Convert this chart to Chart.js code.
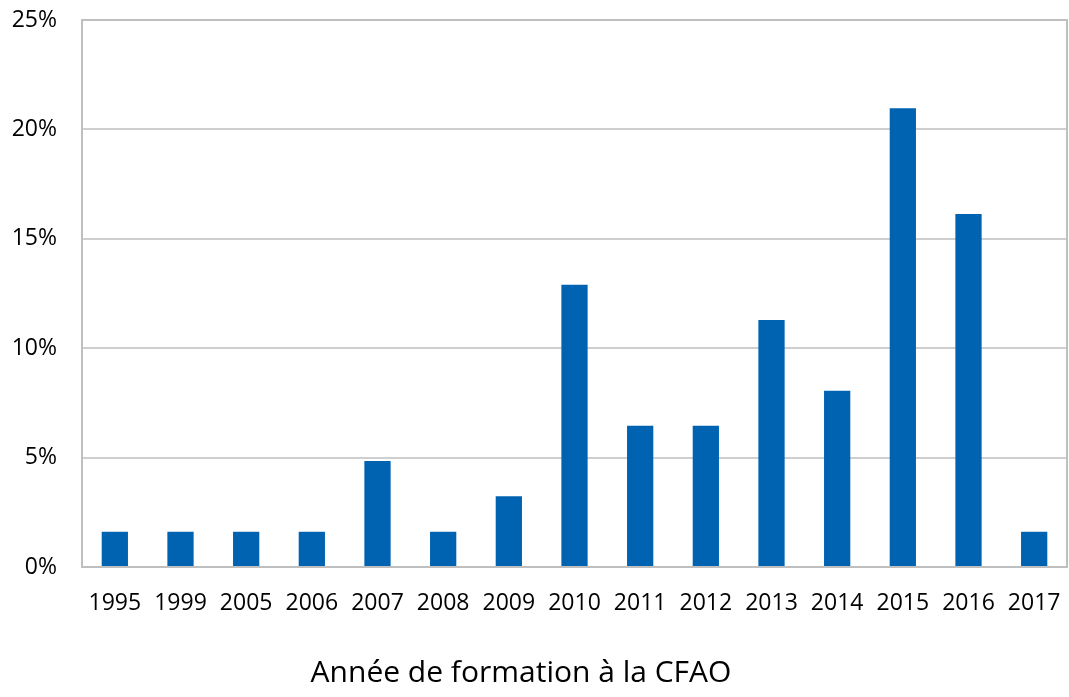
<!DOCTYPE html>
<html>
<head>
<meta charset="utf-8">
<script src="https://cdn.jsdelivr.net/npm/chart.js@4"></script>
<style>
  body { margin: 0; background: #fff; }
  #wrap { width: 1069px; height: 697px; }
</style>
</head>
<body>
<div id="wrap"><canvas id="yearChart"></canvas></div>
<script>
const years = ["1995", "1999", "2005", "2006", "2007", "2008", "2009", "2010", "2011", "2012", "2013", "2014", "2015", "2016", "2017"];
const shares = [1.61, 1.61, 1.61, 1.61, 4.84, 1.61, 3.23, 12.9, 6.45, 6.45, 11.29, 8.06, 20.97, 16.13, 1.61];
const yMax = 25;
const yStep = 5;
const xTitle = "Année de formation à la CFAO";

const fontName = "'Open Sans', 'Noto Sans', sans-serif";

// frame round the plot area + the x title, which sits left of the plot centre
const frame = {
  id: "frame",
  afterDatasetsDraw(chart) {
    const { ctx, chartArea: a } = chart;
    ctx.save();
    ctx.strokeStyle = "#BFBFBF";
    ctx.lineWidth = 2;
    ctx.strokeRect(a.left, a.top, a.right - a.left, a.bottom - a.top);
    ctx.restore();
  },
  afterDraw(chart) {
    const { ctx } = chart;
    ctx.save();
    ctx.fillStyle = "#000";
    ctx.font = "30px " + fontName;
    ctx.textAlign = "center";
    ctx.textBaseline = "alphabetic";
    ctx.fillText(xTitle, 521, 682);
    ctx.restore();
  },
};

new Chart(document.getElementById("yearChart"), {
  type: "bar",
  data: {
    labels: years,
    datasets: [
      {
        data: shares,
        backgroundColor: "#0063B2",
        borderWidth: 0,
        categoryPercentage: 1,
        barPercentage: 0.4,
      },
    ],
  },
  options: {
    responsive: true,
    maintainAspectRatio: false,
    animation: false,
    layout: { padding: { top: 20, right: 2, left: 0, bottom: 0 } },
    plugins: { legend: { display: false }, tooltip: { enabled: false } },
    scales: {
      x: {
        grid: { display: false },
        border: { display: false },
        ticks: { color: "#000", padding: 17, font: { family: fontName, size: 23, lineHeight: 1 } },
        afterFit(scale) {
          scale.height = 130;
          scale.paddingLeft = 0;
          scale.paddingRight = 0;
        },
      },
      y: {
        min: 0,
        max: yMax,
        grid: { color: "#CFCFCF", lineWidth: 2, drawTicks: false },
        border: { display: false },
        ticks: {
          stepSize: yStep,
          color: "#000",
          padding: 25,
          font: { family: fontName, size: 23 },
          callback: (v) => v + "%",
        },
        afterFit(scale) {
          scale.width = 82;
          scale.paddingTop = 0;
          scale.paddingBottom = 0;
        },
      },
    },
  },
  plugins: [frame],
});
</script>
</body>
</html>
